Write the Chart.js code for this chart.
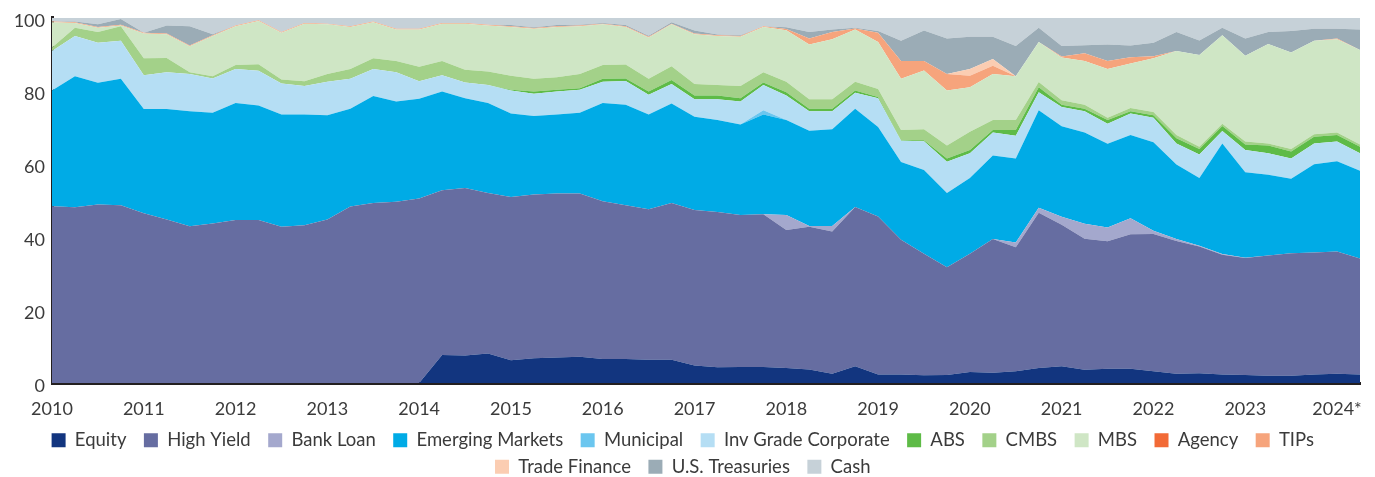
<!DOCTYPE html>
<html lang="en">
<head>
    <meta charset="UTF-8">
    <meta name="viewport" content="width=device-width, initial-scale=1.0">
    <title>Sector Allocation</title>
    <script src="https://cdn.jsdelivr.net/npm/chart.js"></script>
    <style>
        html, body { margin: 0; padding: 0; background: #ffffff; }
        .chart-box { position: relative; width: 1375px; height: 477px; }
    </style>
</head>
<body>
    <div class="chart-box">
        <canvas id="allocChart"></canvas>
    </div>

    <script>
        // tick labels (one per year, quarterly points in between)
        const yearLabels = ["2010", "2011", "2012", "2013", "2014", "2015", "2016", "2017",
                            "2018", "2019", "2020", "2021", "2022", "2023", "2024*"];

        // quarterly values, 2010 Q1 .. 2024 Q2 (58 points), % of portfolio
        const equity = [0, 0, 0, 0, 0, 0, 0, 0, 0, 0, 0, 0, 0, 0, 0, 0, 0,
            7.7, 7.5, 8.1, 6.2, 6.8, 7.0, 7.2, 6.6, 6.6, 6.4, 6.4, 4.8, 4.3, 4.4, 4.4, 4.1, 3.7, 2.5, 4.6,
            2.3, 2.3, 2.1, 2.2, 3.0, 2.8, 3.2, 4.1, 4.6, 3.6, 3.9, 3.9, 3.2, 2.5, 2.7, 2.3, 2.2, 2.0, 2.0, 2.3, 2.5, 2.3];
        const highYield = [48.4, 48.1, 48.9, 48.7, 46.5, 44.8, 42.9, 43.7, 44.6, 44.6, 42.8, 43.2, 44.8, 48.3, 49.3, 49.6,
            50.5, 45.1, 45.9, 43.9, 44.7, 44.8, 44.9, 44.7, 43.2, 42.1, 41.2, 42.9, 42.6, 42.5, 41.6, 41.8,
            37.8, 39.1, 39.0, 43.6, 43.3, 36.9, 33.3, 29.5, 32.4, 36.6, 34.0, 42.5, 38.7, 35.9, 34.9, 36.8,
            37.6, 36.4, 34.7, 32.8, 32.0, 32.9, 33.5, 33.4, 33.5, 31.8];
        const bankLoan = [0, 0, 0, 0, 0, 0, 0, 0, 0, 0, 0, 0, 0, 0, 0, 0, 0, 0, 0, 0, 0, 0, 0, 0, 0, 0, 0, 0, 0, 0, 0, 0,
            4.1, 0.2, 1.5, 0, 0, 0, 0, 0, 0, 0,
            1.3, 1.4, 2.2, 4.1, 3.8, 4.4, 0.9, 0.5, 0.2, 0.2, 0.1, 0, 0, 0, 0, 0];
        const emergingMkts = [31.7, 35.9, 33.3, 34.6, 28.5, 30.2, 31.5, 30.3, 32.1, 31.4, 30.7, 30.3, 28.5, 26.8, 29.3, 27.5,
            27.3, 27.0, 24.6, 24.7, 22.9, 21.5, 21.6, 22.1, 26.9, 27.5, 25.9, 27.2, 25.5, 25.2, 24.8, 27.3,
            26.0, 26.1, 26.5, 26.9, 24.5, 21.3, 22.9, 20.3, 20.7, 22.9, 23.0, 26.7, 24.8, 25.0, 22.9, 22.8,
            24.2, 20.4, 18.5, 30.3, 23.4, 22.1, 20.4, 24.2, 24.7, 24.0];
        const municipal = [0, 0, 0, 0, 0, 0, 0, 0, 0, 0, 0, 0, 0, 0, 0, 0, 0, 0, 0, 0, 0, 0, 0, 0, 0, 0, 0, 0, 0, 0, 0,
            1.2, 0, 0, 0, 0, 0, 0, 0, 0, 0, 0, 0, 0, 0, 0, 0, 0, 0, 0, 0, 0, 0, 0, 0, 0, 0, 0];
        const invGrade = [10.8, 11.0, 11.0, 10.4, 9.3, 10.1, 10.2, 9.4, 9.3, 9.5, 8.5, 7.8, 9.2, 8.2, 7.4, 8.0,
            4.8, 4.5, 4.3, 4.9, 6.3, 6.1, 6.3, 6.3, 5.8, 6.5, 5.4, 5.4, 4.8, 5.7, 6.3, 6.9,
            6.7, 5.3, 4.9, 4.4, 7.9, 5.8, 7.9, 8.6, 6.8, 6.3, 6.2, 4.9, 5.3, 5.8, 5.5, 5.9,
            6.7, 5.8, 6.5, 3.4, 6.1, 5.9, 5.6, 5.7, 5.4, 4.8];
        const abs = [0, 0, 0, 0, 0, 0, 0, 0, 0, 0, 0, 0, 0, 0, 0, 0, 0, 0, 0, 0,
            0.2, 0.6, 0.5, 0.4, 0.8, 0.7, 0.9, 1.1, 1.0, 1.0, 0.9, 0.7, 0.9, 0.7, 0.7, 0.6,
            0.3, 0.2, 0.3, 0.9, 0.9, 0.7, 1.6, 1.4, 0.6, 0.7, 1.0, 0.6, 0.7, 1.4,
            1.5, 1.4, 1.5, 2.1, 1.9, 1.8, 1.8, 1.8];
        const cmbs = [1.0, 2.3, 2.9, 4.0, 4.6, 3.9, 0.5, 0.6, 1.1, 1.8, 1.1, 1.3, 2.1, 2.7, 2.9, 3.1,
            4.0, 3.9, 3.5, 3.7, 3.8, 3.5, 3.4, 3.9, 3.8, 3.8, 3.5, 3.7, 3.2, 2.9, 3.3, 2.8,
            2.9, 2.6, 2.6, 2.4, 2.2, 2.8, 3.0, 3.5, 5.0, 2.7, 2.7, 1.4, 1.2, 1.1, 0.6, 0.9,
            0.9, 0.9, 0.6, 0.6, 0.8, 0.6, 0.7, 0.7, 0.7, 0.6];
        const mbs = [6.9, 1.3, 1.2, 0.2, 6.8, 6.5, 7.1, 11.0, 10.6, 11.8, 12.8, 15.8, 13.6, 11.5, 9.9, 8.6,
            10.2, 10.2, 12.6, 12.6, 13.4, 13.7, 13.8, 13.1, 11.1, 10.3, 11.3, 11.5, 13.6, 13.4, 13.5, 12.4,
            14.1, 15.0, 16.4, 14.3, 12.9, 14.0, 16.1, 15.1, 12.2, 12.6, 12.0, 11.0, 11.7, 12.0, 13.4, 12.2,
            14.7, 23.0, 25.1, 24.2, 23.5, 27.2, 26.4, 25.6, 25.5, 25.9];
        const agency = [0, 0, 0, 0, 0, 0, 0, 0, 0, 0, 0, 0, 0, 0, 0, 0, 0, 0, 0, 0, 0, 0, 0, 0, 0, 0, 0, 0, 0,
            0, 0, 0, 0, 0, 0, 0, 0, 0, 0, 0, 0, 0, 0, 0, 0, 0, 0, 0, 0, 0, 0, 0, 0, 0, 0, 0, 0, 0];
        const tips = [0.2, 0.2, 0.2, 0.2, 0.2, 0.2, 0.2, 0.2, 0.2, 0.2, 0.2, 0.2, 0.2, 0.2, 0.2, 0.2,
            0.2, 0.2, 0.2, 0.2, 0.2, 0.2, 0.2, 0.2, 0.2, 0.2, 0.2, 0.2, 0.2, 0.2, 0.2, 0.2,
            0.3, 1.6, 2.0, 0.3, 2.5, 4.9, 2.6, 4.5, 3.1, 2.3, 0, 0, 0.3, 2.1, 2.2, 1.7,
            0.6, 0, 0, 0, 0, 0, 0, 0, 0.2, 0];
        const tradeFinance = [0, 0, 0, 0, 0, 0, 0, 0, 0, 0, 0, 0, 0, 0, 0, 0, 0, 0, 0, 0, 0, 0, 0, 0, 0, 0, 0, 0, 0, 0,
            0, 0, 0, 0, 0, 0, 0, 0, 0, 0, 1.9, 1.8, 0, 0, 0, 0, 0, 0, 0, 0, 0, 0, 0, 0, 0, 0, 0, 0];
        const treasuries = [0, 0.2, 0.7, 1.6, 0, 2.2, 5.3, 0.3, 0, 0, 0, 0, 0, 0, 0, 0,
            0, 0, 0, 0, 0.3, 0.2, 0.3, 0.2, 0.2, 0.3, 0.3, 0.4, 0.8, 0.2, 0.2, 0,
            0.5, 1.8, 0.7, 0.2, 0.5, 5.5, 8.3, 9.7, 8.8, 6.1, 8.3, 3.9, 2.9, 2.2, 4.5, 3.2,
            3.7, 5.2, 4.0, 2.1, 4.7, 3.3, 5.9, 3.3, 2.7, 5.6];
        const cash = [1.0, 1.0, 1.8, 0.3, 4.1, 2.1, 2.3, 4.5, 2.1, 0.7, 3.9, 1.4, 1.6, 2.3, 1.0, 3.0,
            3.0, 1.4, 1.4, 1.9, 2.0, 2.6, 2.0, 1.9, 1.4, 2.0, 4.9, 1.2, 3.5, 4.6, 4.8, 2.3,
            2.6, 3.9, 3.2, 2.7, 3.6, 6.3, 3.5, 5.7, 5.2, 5.2, 7.7, 2.7, 7.7, 7.5, 7.3, 7.6,
            6.8, 3.9, 6.2, 2.7, 5.7, 3.9, 3.6, 3.0, 3.0, 3.2];

        // quarter categories for the x axis
        const quarters = [];
        yearLabels.forEach(y => {
            for (let q = 1; q <= 4; q++) quarters.push(y + " Q" + q);
        });
        quarters.length = equity.length;

        // stacked bottom to top, same order as the legend
        const series = [
            ["Equity", equity, "#12357f"],
            ["High Yield", highYield, "#666da1"],
            ["Bank Loan", bankLoan, "#a4a8cd"],
            ["Emerging Markets", emergingMkts, "#00abe6"],
            ["Municipal", municipal, "#6bc6ef"],
            ["Inv Grade Corporate", invGrade, "#b5def4"],
            ["ABS", abs, "#5ebb47"],
            ["CMBS", cmbs, "#a3d189"],
            ["MBS", mbs, "#cfe6c5"],
            ["Agency", agency, "#f26a36"],
            ["TIPs", tips, "#f6a47c"],
            ["Trade Finance", tradeFinance, "#fbcdb2"],
            ["U.S. Treasuries", treasuries, "#9bacb6"],
            ["Cash", cash, "#c6d1d8"]
        ];

        const datasets = series.map(([name, values, color], i) => ({
            label: name,
            data: values,
            backgroundColor: color,
            borderColor: color,
            borderWidth: 0,
            pointRadius: 0,
            tension: 0,
            fill: i === 0 ? "origin" : "-1"
        }));

        const textColor = "#3b3b3b";
        const baseFont = { family: "Lato", size: 18 };

        new Chart(document.getElementById("allocChart"), {
            type: "line",
            data: { labels: quarters, datasets: datasets },
            options: {
                responsive: true,
                maintainAspectRatio: false,
                animation: false,
                layout: { padding: { top: 15, right: 0, bottom: -9, left: 0 } },
                plugins: {
                    tooltip: { enabled: false },
                    legend: {
                        position: "bottom",
                        labels: {
                            boxWidth: 14,
                            boxHeight: 14,
                            padding: 8,
                            color: textColor,
                            font: { family: "Lato", size: 18.5 },
                            // a little extra room between items
                            generateLabels: chart =>
                                Chart.defaults.plugins.legend.labels.generateLabels(chart)
                                    .map(item => ({ ...item, text: item.text + "  " }))
                        }
                    }
                },
                scales: {
                    x: {
                        offset: false,
                        grid: { display: false, drawTicks: false },
                        border: { display: true, color: "#231f20", width: 3 },
                        ticks: {
                            autoSkip: false,
                            maxRotation: 0,
                            padding: 15,
                            color: textColor,
                            font: baseFont,
                            callback: (v, i) => (i % 4 === 0 ? yearLabels[i / 4] : "")
                        },
                        afterFit: scale => { scale.height = 40; }
                    },
                    y: {
                        stacked: true,
                        min: 0,
                        max: 100,
                        grid: { display: false, drawTicks: false },
                        border: { display: true, color: "#231f20", width: 3 },
                        ticks: {
                            stepSize: 20,
                            padding: 7,
                            labelOffset: 3,
                            color: textColor,
                            font: baseFont
                        },
                        afterFit: scale => { scale.width = 52; }
                    }
                }
            }
        });
    </script>
</body>
</html>
